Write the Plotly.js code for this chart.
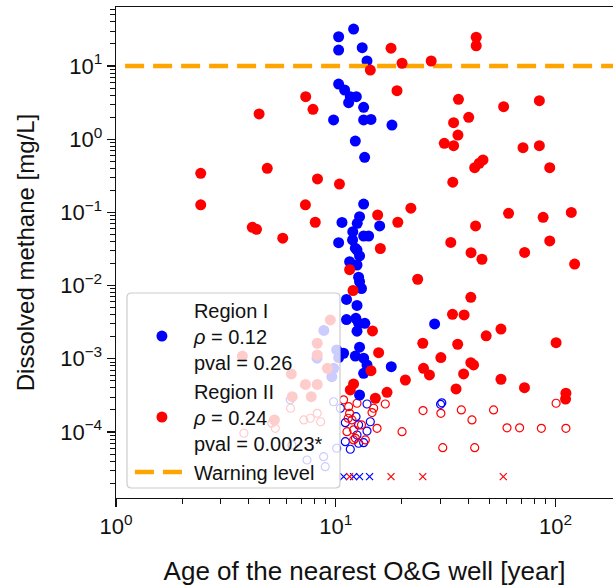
<!DOCTYPE html>
<html>
<head>
<meta charset="utf-8">
<script src="https://cdn.plot.ly/plotly-3.0.1.min.js"></script>
<style>html,body{margin:0;padding:0;background:#fff;}#chart{width:613px;height:588px;}</style>
</head>
<body>
<div id="chart"></div>
<script>
// ---- Region I (blue), detected values ----
const r1X = [12.06,10.31,10.31,13.2,13.88,10.31,10.98,11.65,12.41,11.45,13.40,9.78,13.40,14.47,18.03,12.28,13.54,
  13.40,12.84,10.68,15.85,12.53,11.96,13.40,14.12,10.31,11.93,12.28,12.50,12.84,11.57,12.50,12.71,12.84,13.1,11.2,12.50,
  11.2,12.35,12.71,13.57,12.50,28.2,10.86,12.84,12.28,13.40,13.88,13.40,17.9,12.84,
  8.83,10.1,10.31,8.22,9.8,9.6];
const r1Y = [32.0,25.1,16.5,17.8,11.7,5.67,4.70,3.81,3.81,3.15,2.73,1.83,1.83,1.86,1.56,0.944,0.566,
  0.130,0.0873,0.0728,0.0652,0.0710,0.0545,0.0476,0.0476,0.0386,0.0420,0.0324,0.0306,0.0254,0.0212,0.0191,0.0130,0.0113,0.00912,0.00646,0.00535,
  0.00343,0.00357,0.00305,0.00305,0.00238,0.00299,0.00119,0.00144,0.00109,0.00102,0.000823,0.000634,0.000780,0.000320,
  0.00244,0.00132,0.00104,0.00102,0.000741,0.000569];

// ---- Region II (red), detected values ----
const r2X = [43.6,43.6,17.85,20.04,27.2,14.37,19.01,4.48,7.30,7.88,36.2,58.1,84.5,40.3,34.4,36.0,31.2,34.4,71.2,84.5,
  46.8,45.0,42.9,94.2,2.43,4.88,8.26,10.4,34.1,2.43,7.28,8.07,4.17,4.36,5.74,15.52,21.98,19.17,15.96,61.2,87.9,118.1,
  43.3,33.4,41.3,46.3,72.4,94.2,122.3,11.57,11.99,23.6,41.2,34.0,38.4,14.7,56.5,48.4,24.9,35.9,100.7,15.68,30.1,
  25.1,26.7,41.2,42.4,38.2,14.47,56.5,35.3,72.3,111.6,111.2,12.06,11.65,20.75,17.12,15.15,
  9.45,8.24,3.76,8.24,9.16,6.28,7.28,8.24,6.34,7.74,5.26];
const r2Y = [24.7,18.9,17.5,10.9,11.7,8.81,4.60,2.21,3.81,2.56,3.51,2.78,3.36,1.99,1.68,1.14,0.879,0.815,0.765,0.815,
  0.520,0.469,0.408,0.408,0.342,0.400,0.286,0.244,0.259,0.127,0.127,0.0733,0.0626,0.0587,0.0444,0.0921,0.114,0.0733,0.0321,0.0972,0.0857,0.100,
  0.0652,0.0389,0.0282,0.0229,0.0284,0.0407,0.0197,0.0165,0.00857,0.0122,0.00692,0.00405,0.00397,0.00240,0.00255,0.00206,0.00163,0.00158,0.00166,0.00121,0.00104,
  0.000741,0.000601,0.000885,0.000823,0.000620,0.000687,0.000525,0.000387,0.000403,0.000338,0.000282,0.000453,0.000375,0.000513,0.000348,0.000289,
  0.00339,0.00163,0.00109,0.00113,0.000741,0.000620,0.000446,0.000446,0.000304,0.000304,0.000146];

// ---- below reporting level (open circles) ----
const r1OpenX = [13.88,12.37,14.37,11.06,12.71,12.50,13.88,11.06,11.65,12.71,13.40,30.0,30.4,
  6.21,9.78,10.5,6.32,7.40,8.81,8.96,10.1];
const r1OpenY = [0.000241,0.000162,0.000138,0.000134,0.000125,0.0000910,0.000103,0.0000737,0.0000581,0.0000701,0.0000714,0.000239,0.000250,
  0.000275,0.000259,0.000211,0.0000664,0.0000414,0.0000460,0.0000336,0.0000599];
const r2OpenX = [16.81,14.88,14.63,20.04,15.42,11.45,12.50,11.57,11.86,11.25,12.06,13.64,12.06,24.97,30.1,37.3,52.3,41.7,
  100.7,60.2,68.7,86.3,111.6,30.7,42.9,10.86,11.4,12.3,13.1,
  7.16,8.24,8.54,6.23,5.12,5.31,3.82,7.66];
const r2OpenY = [0.000241,0.000211,0.000184,0.000101,0.000112,0.000222,0.000247,0.000180,0.000146,0.000101,0.000107,0.0000778,0.0000778,0.000196,0.000180,0.000200,0.000200,0.000146,
  0.000247,0.000114,0.000114,0.000112,0.000112,0.0000611,0.0000611,0.000275,0.000154,0.0000820,0.000125,
  0.000146,0.000180,0.000138,0.000211,0.000132,0.000112,0.0000960,0.000154];

// ---- not detected (x markers) ----
const r1NdX = [10.86,12.06,12.84,14.26];
const r1NdY = [0.0000245,0.0000245,0.0000245,0.0000245];
const r2NdX = [11.57,17.85,24.9,57.9];
const r2NdY = [0.0000245,0.0000245,0.0000245,0.0000245];

// ---- warning level ----
const warnX = [1.1, 200];
const warnY = [10, 10];

// ---- labels ----
const legendR1 = "Region I<br><i>ρ</i> = 0.12<br>pval = 0.26";
const legendR2 = "Region II<br><i>ρ</i> = 0.24<br>pval = 0.0023*";
const legendWarn = "Warning level";
const xTickVals = [1, 10, 100];
const xTickText = ["10<sup>0</sup>", "10<sup>1</sup>", "10<sup>2</sup>"];
const yTickVals = [1e-4, 1e-3, 1e-2, 1e-1, 1, 10];
const yTickText = ["10<sup>−4</sup>", "10<sup>−3</sup>", "10<sup>−2</sup>", "10<sup>−1</sup>", "10<sup>0</sup>", "10<sup>1</sup>"];
const xTitle = "Age of the nearest O&G well [year]";
const yTitle = "Dissolved methane [mg/L]";

const BLUE = "#0000ff", RED = "#ff0000", ORANGE = "#ffa500";
const FONT = "Liberation Sans, Arial, sans-serif";

function minorVals(lo, hi) {
  const v = [];
  for (let e = lo; e <= hi; e++) for (let d = 2; d <= 9; d++) v.push(d * Math.pow(10, e));
  return v;
}

// rounded legend frame (paper coordinates)
function roundedRect(x0, y0, x1, y1, rx, ry) {
  return `M${x0 + rx},${y0} L${x1 - rx},${y0} Q${x1},${y0} ${x1},${y0 + ry} L${x1},${y1 - ry} Q${x1},${y1} ${x1 - rx},${y1} ` +
         `L${x0 + rx},${y1} Q${x0},${y1} ${x0},${y1 - ry} L${x0},${y0 + ry} Q${x0},${y0} ${x0 + rx},${y0} Z`;
}

const traces = [
  {x: r1OpenX, y: r1OpenY, mode: "markers", type: "scatter", showlegend: false,
   marker: {symbol: "circle-open", size: 8, color: BLUE, line: {width: 1.2, color: BLUE}}},
  {x: r2OpenX, y: r2OpenY, mode: "markers", type: "scatter", showlegend: false,
   marker: {symbol: "circle-open", size: 8, color: RED, line: {width: 1.2, color: RED}}},
  {x: r1NdX, y: r1NdY, mode: "markers", type: "scatter", showlegend: false,
   marker: {symbol: "x-thin-open", size: 7, color: BLUE, line: {width: 1.2, color: BLUE}}},
  {x: r2NdX, y: r2NdY, mode: "markers", type: "scatter", showlegend: false,
   marker: {symbol: "x-thin-open", size: 7, color: RED, line: {width: 1.2, color: RED}}},
  {x: r1X, y: r1Y, mode: "markers", type: "scatter", name: legendR1, legendrank: 1,
   marker: {symbol: "circle", size: 11, color: BLUE, line: {width: 0}}},
  {x: warnX, y: warnY, mode: "lines", type: "scatter", name: legendWarn, legendrank: 3,
   line: {color: ORANGE, width: 4.5, dash: "19px,9px"}},
  {x: r2X, y: r2Y, mode: "markers", type: "scatter", name: legendR2, legendrank: 2,
   marker: {symbol: "circle", size: 11, color: RED, line: {width: 0}}}
];

const axisCommon = {
  type: "log", showgrid: false, zeroline: false,
  showline: true, linecolor: "#111", linewidth: 1.4,
  ticks: "outside", ticklen: 8, tickwidth: 1.2, tickcolor: "#111",
  tickmode: "array",
  tickfont: {family: FONT, size: 22, color: "#111"},
  automargin: false
};

const layout = {
  width: 613, height: 588,
  margin: {l: 116, r: 0, t: 7, b: 90},
  paper_bgcolor: "#fff", plot_bgcolor: "#fff",
  font: {family: FONT, color: "#111"},
  xaxis: Object.assign({}, axisCommon, {
    range: [0, 2.262], mirror: true,
    tickvals: xTickVals, ticktext: xTickText,
    minor: {tickmode: "array", tickvals: minorVals(0, 2), ticks: "outside", ticklen: 4.5, tickwidth: 1, tickcolor: "#111"},
    title: {text: xTitle, font: {family: FONT, size: 26, color: "#111"}, standoff: 24}
  }),
  yaxis: Object.assign({}, axisCommon, {
    range: [-4.902, 1.806], mirror: false,
    tickvals: yTickVals, ticktext: yTickText,
    minor: {tickmode: "array", tickvals: minorVals(-5, 1), ticks: "outside", ticklen: 4.5, tickwidth: 1, tickcolor: "#111"},
    title: {text: yTitle, font: {family: FONT, size: 24, color: "#111"}, standoff: 18}
  }),
  shapes: [{
    type: "path", xref: "paper", yref: "paper", layer: "above",
    path: roundedRect(0.0221, 0.0204, 0.4507, 0.4175, 0.009, 0.009),
    fillcolor: "rgba(255,255,255,0.8)", line: {color: "#cccccc", width: 1.2}
  }],
  legend: {
    x: 0.028, y: 0.013, xanchor: "left", yanchor: "bottom",
    bgcolor: "rgba(0,0,0,0)", borderwidth: 0,
    font: {family: FONT, size: 20, color: "#111"},
    itemwidth: 54, tracegroupgap: 0, traceorder: "normal"
  },
  showlegend: true
};

Plotly.newPlot("chart", traces, layout, {staticPlot: true, displayModeBar: false});
</script>
</body>
</html>
